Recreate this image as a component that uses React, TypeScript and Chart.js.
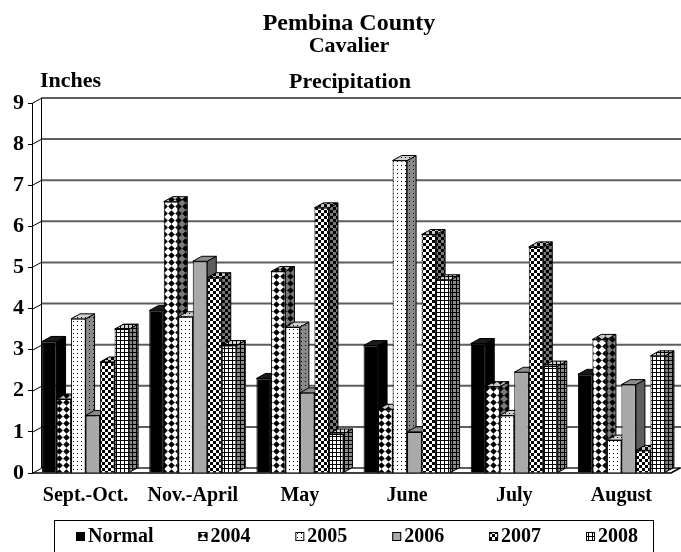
import React, { useEffect, useRef } from 'react';
import { Chart, registerables } from 'chart.js';

Chart.register(...registerables);

const categories = ['Sept.-Oct.', 'Nov.-April', 'May', 'June', 'July', 'August'];
const seriesNames = ['Normal', '2004', '2005', '2006', '2007', '2008'];
const normal = [3.2, 3.95, 2.3, 3.1, 3.15, 2.4];
const y2004 = [1.8, 6.6, 4.9, 1.55, 2.1, 3.25];
const y2005 = [3.75, 3.8, 3.55, 7.6, 1.4, 0.8];
const y2006 = [1.4, 5.15, 1.95, 1.0, 2.45, 2.15];
const y2007 = [2.7, 4.75, 6.45, 5.8, 5.5, 0.55];
const y2008 = [3.5, 3.1, 0.95, 4.7, 2.6, 2.85];
const yTicks = [0, 1, 2, 3, 4, 5, 6, 7, 8, 9];

const titleText = 'Pembina County';
const subtitleText = 'Cavalier';
const chartLabel = 'Precipitation';
const axisLabel = 'Inches';

const FONT = '"Liberation Serif", "Times New Roman", serif';
const DX = 9;
const DY = 5;

type Kind = 'solid' | 'diamond' | 'dots' | 'checker' | 'grid';

function makePattern(kind: Kind, bg: string, fg: string): CanvasPattern | string {
  if (kind === 'solid') return bg;
  const size = kind === 'diamond' ? 7 : kind === 'checker' ? 6 : 4;
  const c = document.createElement('canvas');
  c.width = size;
  c.height = size;
  const g = c.getContext('2d')!;
  g.fillStyle = bg;
  g.fillRect(0, 0, size, size);
  g.fillStyle = fg;
  if (kind === 'diamond') {
    g.beginPath();
    g.moveTo(3.5, 0.2);
    g.lineTo(6.8, 3.5);
    g.lineTo(3.5, 6.8);
    g.lineTo(0.2, 3.5);
    g.closePath();
    g.fill();
  } else if (kind === 'dots') {
    g.fillRect(1, 1, 1, 1);
  } else if (kind === 'checker') {
    g.fillRect(0, 0, 3, 3);
    g.fillRect(3, 3, 3, 3);
  } else if (kind === 'grid') {
    g.fillRect(0, 0, size, 1);
    g.fillRect(0, 0, 1, size);
  }
  return g.createPattern(c, 'repeat')!;
}

const kinds: Kind[] = ['solid', 'diamond', 'dots', 'solid', 'checker', 'grid'];
const frontBg = ['#000000', '#ffffff', '#ffffff', '#a9a9a9', '#ffffff', '#ffffff'];
const sideBg = ['#000000', '#7a7a7a', '#8a8a8a', '#5e5e5e', '#7a7a7a', '#8a8a8a'];
const topBg = ['#1a1a1a', '#c8c8c8', '#d0d0d0', '#8c8c8c', '#c8c8c8', '#d0d0d0'];

function line(ctx: CanvasRenderingContext2D, x1: number, y1: number, x2: number, y2: number) {
  ctx.beginPath();
  ctx.moveTo(x1, y1);
  ctx.lineTo(x2, y2);
  ctx.stroke();
}

export default function App() {
  const ref = useRef<HTMLCanvasElement | null>(null);

  useEffect(() => {
    document.body.style.margin = '0';
    const canvas = ref.current!;
    const values = [normal, y2004, y2005, y2006, y2007, y2008];
    const fronts = kinds.map((k, i) => makePattern(k, frontBg[i], '#000'));
    const sides = kinds.map((k, i) => makePattern(k, sideBg[i], '#000'));
    const tops = kinds.map((k, i) => makePattern(k, topBg[i], '#000'));

    const threeD = {
      id: 'threeD',
      beforeDatasetsDraw(chart: any) {
        const { ctx, chartArea: a, scales } = chart;
        const y = scales.y;
        const y0 = y.getPixelForValue(0);
        const yTop = y.getPixelForValue(9);
        ctx.save();
        ctx.strokeStyle = '#5e5e5e';
        ctx.lineWidth = 2;
        yTicks.forEach((v) => {
          const py = y.getPixelForValue(v);
          line(ctx, a.left + DX, py - DY, a.right + DX + 10, py - DY);
        });
        ctx.strokeStyle = '#000';
        ctx.lineWidth = 1;
        line(ctx, a.left + DX + 0.5, yTop - DY, a.left + DX + 0.5, y0 - DY);
        yTicks.forEach((v) => {
          const py = Math.round(y.getPixelForValue(v)) + 0.5;
          line(ctx, a.left, py, a.left + DX, py - DY);
        });
        ctx.lineWidth = 1.5;
        ctx.beginPath();
        ctx.moveTo(a.left, y0);
        ctx.lineTo(a.right - 4, y0);
        ctx.lineTo(a.right - 4 + DX, y0 - DY);
        ctx.stroke();

        const bars: any[] = [];
        chart.data.datasets.forEach((_: any, di: number) => {
          const meta = chart.getDatasetMeta(di);
          meta.data.forEach((el: any) => {
            const p = el.getProps(['x', 'y', 'base', 'width'], true);
            bars.push({ di, ...p });
          });
        });
        ctx.lineWidth = 1;
        ctx.strokeStyle = '#000';
        bars.forEach((b) => {
          const r = b.x + b.width / 2;
          ctx.beginPath();
          ctx.moveTo(r, b.y);
          ctx.lineTo(r + DX, b.y - DY);
          ctx.lineTo(r + DX, b.base - DY);
          ctx.lineTo(r, b.base);
          ctx.closePath();
          ctx.fillStyle = sides[b.di];
          ctx.fill();
          ctx.stroke();
        });
        bars.forEach((b) => {
          const l = b.x - b.width / 2;
          const r = b.x + b.width / 2;
          ctx.beginPath();
          ctx.moveTo(l, b.y);
          ctx.lineTo(r, b.y);
          ctx.lineTo(r + DX, b.y - DY);
          ctx.lineTo(l + DX, b.y - DY);
          ctx.closePath();
          ctx.fillStyle = tops[b.di];
          ctx.fill();
          ctx.stroke();
        });
        ctx.restore();
      },
      afterDraw(chart: any) {
        const { ctx } = chart;
        ctx.save();
        ctx.fillStyle = '#000';
        ctx.textBaseline = 'middle';
        ctx.textAlign = 'center';
        ctx.font = `bold 24px ${FONT}`;
        ctx.fillText(titleText, 349, 24);
        ctx.font = `bold 22px ${FONT}`;
        ctx.fillText(subtitleText, 349, 46);
        ctx.fillText(chartLabel, 350, 82);
        ctx.textAlign = 'left';
        ctx.fillText(axisLabel, 40, 81);

        const boxL = 54, boxR = 653, boxT = 520;
        ctx.strokeStyle = '#000';
        ctx.lineWidth = 1;
        ctx.strokeRect(boxL + 0.5, boxT + 0.5, boxR - boxL, 60);
        ctx.font = `bold 20px ${FONT}`;
        const sw = 9, gap = 3;
        const ds = chart.data.datasets;
        const widths = ds.map((d: any) => sw + gap + ctx.measureText(d.label).width);
        const total = widths.reduce((s: number, w: number) => s + w, 0);
        const startX = 76, endX = 638;
        const spacing = (endX - startX - total) / (ds.length - 1);
        let x = startX;
        const cy = 537;
        ds.forEach((d: any, i: number) => {
          ctx.fillStyle = d.backgroundColor;
          ctx.fillRect(x, cy - 5, sw, sw);
          ctx.strokeRect(x + 0.5, cy - 4.5, sw - 1, sw - 1);
          ctx.fillStyle = '#000';
          ctx.fillText(d.label, x + sw + gap, cy);
          x += widths[i] + spacing;
        });
        ctx.restore();
      },
    };

    const chart = new Chart(canvas, {
      type: 'bar',
      data: {
        labels: categories,
        datasets: seriesNames.map((name, i) => ({
          label: name,
          data: values[i],
          backgroundColor: fronts[i] as any,
          borderColor: '#000',
          borderWidth: 1,
          categoryPercentage: 0.812,
          barPercentage: 1.0,
        })),
      },
      options: {
        responsive: false,
        animation: false,
        layout: { padding: { top: 103, right: 6, left: 0, bottom: 0 } },
        plugins: {
          legend: { display: false },
          title: { display: false },
          tooltip: { enabled: false },
        },
        scales: {
          x: {
            grid: { display: false, drawTicks: false },
            border: { display: false },
            ticks: {
              color: '#000',
              padding: 11,
              font: { family: FONT, size: 20, weight: 'bold' },
            },
            afterFit: (s: any) => {
              s.height = 79;
            },
          },
          y: {
            min: 0,
            max: 9,
            ticks: {
              stepSize: 1,
              color: '#000',
              padding: 4,
              font: { family: FONT, size: 22, weight: 'bold' },
            },
            grid: { display: true, drawOnChartArea: false, drawTicks: true, tickLength: 4, color: '#000' },
            border: { display: true, color: '#000', width: 1 },
            afterFit: (s: any) => {
              s.width = 32;
            },
          },
        },
      },
      plugins: [threeD],
    });
    return () => chart.destroy();
  }, []);

  return (
    <div style={{ width: 681, height: 552 }}>
      <canvas ref={ref} width={681} height={552} />
    </div>
  );
}
